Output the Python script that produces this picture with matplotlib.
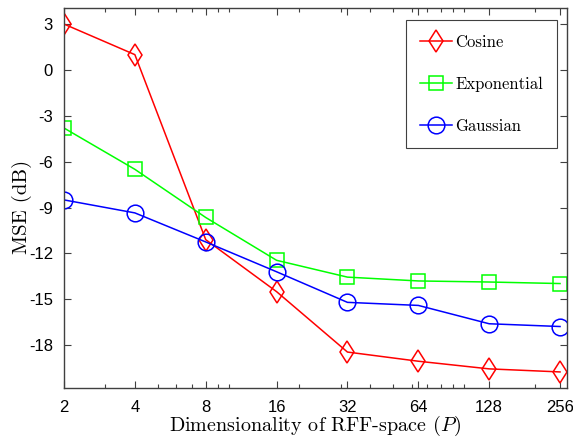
import matplotlib
matplotlib.use('Agg')
import matplotlib.pyplot as plt
from matplotlib.ticker import LogLocator, NullFormatter, FixedLocator, FixedFormatter

plt.rcParams['mathtext.fontset'] = 'cm'

# Data
dims = [2, 4, 8, 16, 32, 64, 128, 256]
mse_cosine = [3.0, 1.0, -11.1, -14.5, -18.45, -19.05, -19.55, -19.75]
mse_exponential = [-3.8, -6.5, -9.65, -12.45, -13.55, -13.8, -13.87, -13.97]
mse_gaussian = [-8.5, -9.35, -11.25, -13.2, -15.2, -15.4, -16.6, -16.78]
y_ticks = [3, 0, -3, -6, -9, -12, -15, -18]

fig = plt.figure(figsize=(5.73, 4.42), dpi=100)
ax = fig.add_axes([0.1117, 0.1222, 0.8778, 0.8597])

ax.plot(dims, mse_cosine, color='#ff0000', marker='d', markersize=11.5,
        markerfacecolor='none', markeredgewidth=1.1, linewidth=1.1, label='Cosine')
ax.plot(dims, mse_exponential, color='#00ff00', marker='s', markersize=9.5,
        markerfacecolor='none', markeredgewidth=1.1, linewidth=1.1, label='Exponential')
ax.plot(dims, mse_gaussian, color='#0000ff', marker='o', markersize=12,
        markerfacecolor='none', markeredgewidth=1.1, linewidth=1.1, label='Gaussian')

ax.set_xscale('log', base=2)
ax.set_xlim(2, 274)
ax.set_ylim(-20.8, 4.05)
ax.xaxis.set_major_locator(FixedLocator(dims))
ax.xaxis.set_major_formatter(FixedFormatter([str(d) for d in dims]))
ax.xaxis.set_minor_locator(LogLocator(base=10, subs=range(1, 10), numticks=20))
ax.xaxis.set_minor_formatter(NullFormatter())
ax.set_yticks(y_ticks)
ax.set_yticklabels([str(t) for t in y_ticks])

for lab in ax.get_xticklabels() + ax.get_yticklabels():
    lab.set_fontfamily('Liberation Sans')
    lab.set_fontsize(12)

ax.tick_params(which='both', direction='in', top=True, right=True,
               color='#404040', width=0.8)
ax.tick_params(which='major', length=5)
ax.tick_params(axis='x', which='major', pad=9)
ax.tick_params(axis='y', which='major', pad=8)
ax.tick_params(which='minor', length=3)
for s in ax.spines.values():
    s.set_color('#404040')
    s.set_linewidth(1.0)

ax.set_xlabel('Dimensionality of RFF-space ($P$)', fontfamily='cmr10', fontsize=14.5, labelpad=-1)
ax.set_ylabel('MSE (dB)', fontfamily='cmr10', fontsize=15)
ax.yaxis.set_label_coords(-0.063, 0.476)

leg = ax.legend(loc='upper right', bbox_to_anchor=(0.98, 0.968), borderaxespad=0,
                prop={'family': 'cmr10', 'size': 12}, fancybox=False,
                edgecolor='#404040', labelspacing=1.6, handlelength=1.9,
                handletextpad=0.2, borderpad=0.85, framealpha=1)
leg.get_frame().set_linewidth(0.8)

fig.savefig('out.png', dpi=100)
